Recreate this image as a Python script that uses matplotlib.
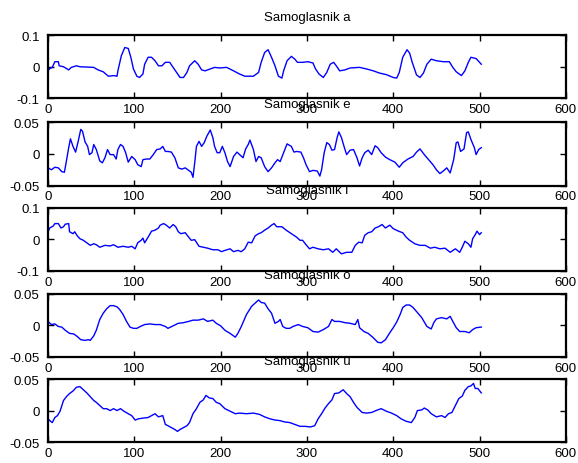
import matplotlib
matplotlib.use("Agg")
import matplotlib.pyplot as plt

plt.rcParams['font.family'] = ['Liberation Sans', 'DejaVu Sans']

# Samoglasnik a
a_x = [0, 2, 5, 8, 12, 13, 18, 24, 27, 33, 37, 53, 58, 64, 70, 76, 80, 81, 85, 89,
       93, 96, 99, 103, 106, 110, 112, 116, 120, 124, 128, 132, 136, 141, 145, 149,
       153, 157, 161, 164, 170, 174, 178, 182, 188, 193, 199, 207, 215, 222, 228,
       238, 244, 247, 251, 255, 259, 263, 267, 271, 273, 277, 282, 286, 289, 295,
       301, 307, 310, 314, 319, 323, 327, 331, 334, 338, 344, 350, 361, 369, 377,
       384, 392, 400, 404, 407, 411, 416, 419, 422, 427, 431, 435, 439, 444, 450,
       458, 465, 469, 473, 479, 483, 487, 490, 496, 500, 502]
a_y = [-0.013, -0.006, -0.002, 0.016, 0.016, 0.003, 0.0, -0.01, -0.002, 0.003, 0.0,
       -0.002, -0.01, -0.016, -0.03, -0.028, -0.03, -0.013, 0.035, 0.061, 0.058,
       0.03, -0.007, -0.03, -0.034, -0.023, 0.008, 0.03, 0.03, 0.019, 0.003, 0.003,
       0.014, 0.014, -0.002, -0.018, -0.034, -0.034, -0.018, 0.003, 0.019, 0.008,
       -0.01, -0.013, -0.007, -0.002, -0.004, -0.002, -0.013, -0.023, -0.03, -0.03,
       -0.018, 0.014, 0.045, 0.054, 0.03, 0.003, -0.03, -0.036, -0.013, 0.019,
       0.033, 0.024, 0.014, 0.014, 0.016, 0.012, -0.007, -0.023, -0.034, -0.018,
       0.008, 0.014, 0.003, -0.013, -0.01, -0.004, -0.002, -0.007, -0.013, -0.02,
       -0.025, -0.034, -0.036, -0.018, 0.03, 0.054, 0.043, 0.014, -0.026, -0.034,
       -0.02, 0.008, 0.024, 0.019, 0.016, 0.016, -0.002, -0.016, -0.028, -0.013,
       0.014, 0.03, 0.026, 0.014, 0.008]

# Samoglasnik e
e_x = [0, 4, 8, 12, 16, 19, 21, 24, 26, 29, 32, 35, 38, 40, 43, 46, 48, 51, 53, 56,
       60, 63, 66, 69, 72, 76, 79, 81, 84, 87, 90, 93, 97, 101, 104, 108, 110, 114,
       118, 122, 126, 130, 133, 136, 139, 143, 147, 151, 155, 159, 163, 166, 168,
       170, 172, 175, 178, 181, 184, 188, 191, 193, 196, 199, 202, 205, 208, 211,
       215, 219, 222, 226, 229, 232, 234, 238, 241, 244, 247, 251, 255, 259, 263,
       266, 269, 273, 277, 282, 285, 288, 293, 296, 299, 303, 307, 312, 315, 317,
       320, 323, 326, 329, 332, 335, 337, 340, 343, 346, 350, 354, 358, 361, 364,
       367, 371, 375, 379, 382, 386, 391, 396, 402, 407, 411, 417, 423, 427, 431,
       436, 441, 446, 450, 454, 458, 462, 466, 470, 473, 475, 478, 482, 485, 487,
       490, 494, 496, 499, 502]
e_y = [-0.022, -0.025, -0.021, -0.022, -0.028, -0.029, -0.014, 0.01, 0.024, 0.012,
       0.003, 0.02, 0.039, 0.036, 0.019, 0.012, -0.001, 0.002, 0.015, 0.007, -0.011,
       -0.014, -0.006, 0.007, -0.001, -0.001, -0.008, 0.007, 0.015, 0.012, 0.002,
       -0.013, -0.004, -0.009, -0.017, -0.02, -0.009, -0.008, -0.008, -0.001, 0.007,
       0.008, 0.012, 0.004, 0.004, 0.003, -0.006, -0.022, -0.024, -0.022, -0.026,
       -0.029, -0.037, -0.014, 0.012, 0.02, 0.012, 0.018, 0.028, 0.038, 0.026, 0.012,
       0.002, 0.002, 0.012, 0.002, -0.012, -0.02, -0.004, 0.003, -0.001, -0.006,
       0.008, 0.015, 0.022, 0.007, -0.012, -0.004, -0.006, -0.02, -0.028, -0.022,
       -0.014, -0.009, -0.012, 0.002, 0.016, 0.012, 0.003, 0.004, 0.003, -0.006,
       -0.017, -0.028, -0.026, -0.027, -0.035, -0.025, 0.002, 0.018, 0.015, 0.006,
       0.007, 0.026, 0.035, 0.026, 0.012, -0.001, 0.006, 0.007, -0.006, -0.019,
       -0.006, 0.002, 0.006, -0.001, 0.013, 0.01, 0.002, -0.005, -0.009, -0.013,
       -0.021, -0.014, -0.008, -0.004, 0.003, 0.008, -0.001, -0.009, -0.017, -0.025,
       -0.031, -0.027, -0.022, -0.03, -0.009, 0.018, 0.019, 0.004, 0.008, 0.034,
       0.035, 0.023, 0.01, -0.001, 0.007, 0.01]

# Samoglasnik i
i_x = [0, 2, 6, 8, 12, 15, 18, 20, 24, 25, 29, 31, 34, 37, 41, 45, 49, 53, 56, 60,
       66, 72, 76, 81, 87, 93, 97, 101, 104, 108, 110, 112, 116, 120, 124, 128, 130,
       134, 137, 141, 145, 148, 151, 154, 159, 163, 166, 170, 175, 180, 185, 191,
       197, 201, 205, 211, 215, 220, 224, 228, 232, 236, 240, 244, 247, 251, 255,
       259, 262, 265, 271, 276, 282, 288, 292, 295, 299, 303, 307, 313, 319, 325,
       330, 334, 340, 346, 352, 356, 360, 364, 367, 371, 375, 379, 383, 387, 391,
       396, 400, 406, 411, 415, 419, 425, 431, 437, 443, 448, 454, 460, 466, 472,
       477, 480, 483, 487, 490, 492, 495, 497, 500, 502]
i_y = [0.023, 0.036, 0.042, 0.05, 0.05, 0.036, 0.04, 0.048, 0.05, 0.024, 0.018,
       0.024, 0.011, 0.002, -0.003, -0.011, -0.019, -0.014, -0.017, -0.025, -0.019,
       -0.021, -0.017, -0.025, -0.022, -0.025, -0.022, -0.03, -0.011, -0.003, 0.004,
       -0.011, 0.007, 0.026, 0.029, 0.036, 0.045, 0.05, 0.045, 0.036, 0.047, 0.04,
       0.024, 0.018, 0.021, 0.007, -0.003, -0.001, -0.022, -0.025, -0.028, -0.033,
       -0.033, -0.039, -0.035, -0.03, -0.039, -0.035, -0.039, -0.03, -0.009, -0.011,
       0.011, 0.018, 0.021, 0.029, 0.036, 0.045, 0.05, 0.04, 0.04, 0.029, 0.018,
       0.007, -0.003, -0.003, -0.017, -0.03, -0.025, -0.03, -0.033, -0.03, -0.041,
       -0.03, -0.046, -0.041, -0.041, -0.019, -0.009, -0.011, 0.013, 0.021, 0.024,
       0.036, 0.04, 0.047, 0.036, 0.045, 0.034, 0.026, 0.021, 0.007, -0.003, -0.014,
       -0.019, -0.019, -0.028, -0.025, -0.03, -0.028, -0.041, -0.03, -0.041, -0.025,
       -0.006, -0.014, -0.025, 0.002, 0.015, 0.026, 0.015, 0.021]

# Samoglasnik o
o_x = [0, 4, 8, 12, 16, 20, 25, 30, 34, 38, 43, 47, 49, 53, 56, 60, 64, 68, 72, 76,
       80, 83, 87, 91, 95, 99, 103, 107, 112, 118, 124, 130, 136, 139, 145, 151,
       157, 163, 168, 174, 180, 185, 191, 195, 200, 205, 211, 217, 220, 224, 230,
       236, 240, 244, 247, 251, 255, 259, 263, 267, 269, 272, 276, 280, 284, 290,
       295, 301, 307, 313, 319, 325, 329, 332, 338, 344, 350, 356, 359, 361, 366,
       371, 377, 382, 386, 391, 396, 400, 404, 408, 411, 415, 419, 423, 428, 433,
       439, 444, 447, 450, 456, 462, 466, 469, 473, 477, 483, 488, 492, 496, 502]
o_y = [0.006, 0.001, 0.002, -0.002, -0.003, -0.008, -0.013, -0.014, -0.018, -0.023,
       -0.024, -0.023, -0.024, -0.017, -0.008, 0.009, 0.019, 0.026, 0.031, 0.031,
       0.029, 0.025, 0.017, 0.006, -0.003, -0.005, -0.005, -0.002, 0.001, 0.002,
       0.001, 0.001, -0.002, -0.005, -0.001, 0.003, 0.004, 0.006, 0.008, 0.008, 0.01,
       0.006, 0.008, 0.003, -0.001, -0.008, -0.013, -0.019, -0.013, -0.002, 0.017,
       0.03, 0.035, 0.04, 0.036, 0.035, 0.026, 0.019, 0.003, 0.006, 0.009, -0.002,
       -0.005, -0.005, -0.002, 0.001, -0.002, -0.004, -0.01, -0.011, -0.007, -0.002,
       0.009, 0.006, 0.006, 0.004, 0.003, 0.001, 0.009, -0.004, -0.01, -0.013,
       -0.02, -0.027, -0.028, -0.023, -0.012, -0.004, 0.005, 0.017, 0.028, 0.032,
       0.032, 0.028, 0.02, 0.012, -0.002, -0.006, 0.004, 0.01, 0.012, 0.01, 0.014,
       0.006, -0.004, -0.01, -0.01, -0.012, -0.007, -0.004, -0.003]

# Samoglasnik u
u_x = [0, 3, 5, 8, 11, 14, 18, 22, 25, 29, 33, 37, 41, 45, 49, 53, 56, 60, 64, 68,
       72, 76, 80, 84, 88, 93, 97, 101, 105, 110, 116, 120, 124, 128, 133, 136, 139,
       143, 147, 150, 153, 157, 161, 164, 168, 172, 176, 180, 183, 187, 191, 195,
       199, 205, 211, 217, 222, 230, 238, 245, 251, 257, 263, 269, 274, 280, 286,
       292, 298, 304, 309, 313, 317, 321, 325, 329, 332, 337, 342, 346, 350, 354,
       358, 364, 369, 375, 380, 386, 392, 398, 404, 409, 415, 421, 425, 428, 433,
       436, 440, 444, 450, 456, 460, 464, 468, 472, 476, 480, 483, 487, 490, 493,
       495, 498, 502]
u_y = [-0.013, -0.017, -0.019, -0.011, -0.008, -0.001, 0.016, 0.023, 0.027, 0.031,
       0.037, 0.038, 0.033, 0.028, 0.022, 0.016, 0.013, 0.008, 0.003, 0.003, 0.0,
       0.003, 0.0, 0.003, -0.001, -0.005, -0.008, -0.015, -0.013, -0.012, -0.011,
       -0.008, -0.005, -0.01, -0.008, -0.022, -0.024, -0.027, -0.03, -0.033, -0.03,
       -0.027, -0.024, -0.019, -0.005, 0.003, 0.013, 0.017, 0.024, 0.02, 0.019,
       0.013, 0.011, 0.003, -0.001, -0.005, -0.004, -0.005, -0.004, -0.006, -0.01,
       -0.013, -0.015, -0.016, -0.018, -0.019, -0.022, -0.025, -0.025, -0.026,
       -0.024, -0.013, -0.005, 0.004, 0.011, 0.017, 0.027, 0.028, 0.033, 0.027,
       0.022, 0.013, 0.005, -0.003, -0.004, -0.003, 0.0, 0.003, -0.001, -0.004,
       -0.008, -0.013, -0.017, -0.019, -0.011, 0.0, 0.001, 0.004, 0.001, -0.005,
       -0.01, -0.008, -0.011, -0.005, -0.003, 0.008, 0.019, 0.023, 0.032, 0.038,
       0.039, 0.043, 0.035, 0.035, 0.028]

titles = ['Samoglasnik a', 'Samoglasnik e', 'Samoglasnik i', 'Samoglasnik o', 'Samoglasnik u']
series = [(a_x, a_y), (e_x, e_y), (i_x, i_y), (o_x, o_y), (u_x, u_y)]
ylims = [0.1, 0.05, 0.1, 0.05, 0.05]
ytick_labels = [['-0.1', '0', '0.1'], ['-0.05', '0', '0.05'], ['-0.1', '0', '0.1'],
                ['-0.05', '0', '0.05'], ['-0.05', '0', '0.05']]
xticks = [0, 100, 200, 300, 400, 500, 600]

fig = plt.figure(figsize=(5.78, 4.64), dpi=100)
bottoms = [0.786, 0.598, 0.414, 0.229, 0.045]

for k in range(5):
    ax = fig.add_axes([0.083, bottoms[k], 0.896, 0.136])
    x, y = series[k]
    ax.plot(x, y, color='#0000ff', linewidth=1.0)
    lim = ylims[k]
    ax.set_xlim(0, 600)
    ax.set_ylim(-lim, lim)
    ax.set_xticks(xticks)
    ax.set_xticklabels([str(t) for t in xticks])
    ax.set_yticks([-lim, 0, lim])
    ax.set_yticklabels(ytick_labels[k])
    ax.tick_params(direction='in', top=True, right=True, labelsize=9.5,
                   length=4, width=1, colors='black')
    ax.tick_params(axis='x', pad=3.5)
    ax.tick_params(axis='y', pad=6)
    for s in ax.spines.values():
        s.set_linewidth(1.6)
    ax.set_title(titles[k], fontsize=9.5, pad=11)

fig.savefig('out.png', dpi=100)
